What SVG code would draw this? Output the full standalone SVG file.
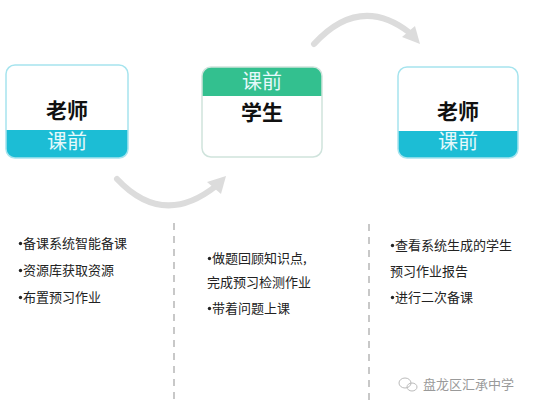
<svg xmlns="http://www.w3.org/2000/svg" width="533" height="408" viewBox="0 0 533 408">
<defs>
<style>
.box{fill:none;stroke-width:1.5}
.title{font-family:"Noto Sans CJK SC",sans-serif;font-weight:bold;font-size:21px;fill:#111;text-anchor:middle}
.band{font-family:"Noto Sans CJK SC",sans-serif;font-size:20px;fill:#e6f9fb;text-anchor:middle}
.item{font-family:"Noto Sans CJK SC",sans-serif;font-size:13px;fill:#222}
.dot{fill:#222}
.arc{fill:none;stroke:#dcdcdc;stroke-width:6;stroke-linecap:round}
.head{fill:#dcdcdc}
.div{stroke:#c8c8c8;stroke-width:2;stroke-dasharray:7 6}
</style>
</defs>
<rect width="533" height="408" fill="#fff"/>
<g id="connectors">
<path class="arc" d="M117,179 Q163,228 216,186"/>
<polygon class="head" points="226,176 207,182 221,194"/>
<path class="arc" d="M314,44 Q360,-6 410,33"/>
<polygon class="head" points="420,44 402,37 415,26"/>
<line class="div" x1="174" y1="223" x2="174" y2="402"/>
<line class="div" x1="369" y1="224" x2="369" y2="402"/>
</g>
<g id="node-teacher1">
<rect x="6" y="65" width="122" height="93" rx="9" fill="#fff"/>
<path d="M6,130 H128 V149 A9,9 0 0 1 119,158 H15 A9,9 0 0 1 6,149 Z" fill="#1cbdd5"/>
<rect class="box" x="6" y="65" width="122" height="93" rx="9" stroke="#a6e4ee"/>
<text class="title" x="67" y="118">老师</text>
<text class="band" x="67" y="149">课前</text>
</g>
<g id="node-student">
<rect x="202" y="67" width="120" height="90" rx="9" fill="#fff"/>
<path d="M202,96 V76 A9,9 0 0 1 211,67 H313 A9,9 0 0 1 322,76 V96 Z" fill="#33c08f"/>
<rect class="box" x="202" y="67" width="120" height="90" rx="9" stroke="#cfe3dc"/>
<text class="band" x="262" y="89">课前</text>
<text class="title" x="262" y="120">学生</text>
</g>
<g id="node-teacher2">
<rect x="398" y="67" width="120" height="91" rx="9" fill="#fff"/>
<path d="M398,131 H518 V149 A9,9 0 0 1 509,158 H407 A9,9 0 0 1 398,149 Z" fill="#1cbdd5"/>
<rect class="box" x="398" y="67" width="120" height="91" rx="9" stroke="#a6e4ee"/>
<text class="title" x="458" y="119">老师</text>
<text class="band" x="458" y="149">课前</text>
</g>
<g id="list1">
<circle class="dot" cx="20.5" cy="243.5" r="1.7"/>
<text class="item" x="23" y="248">备课系统智能备课</text>
<circle class="dot" cx="20.5" cy="270.5" r="1.7"/>
<text class="item" x="23" y="275">资源库获取资源</text>
<circle class="dot" cx="20.5" cy="297.5" r="1.7"/>
<text class="item" x="23" y="302">布置预习作业</text>
</g>
<g id="list2">
<circle class="dot" cx="209.5" cy="258.5" r="1.7"/>
<text class="item" x="212" y="263">做题回顾知识点,</text>
<text class="item" x="207" y="287">完成预习检测作业</text>
<circle class="dot" cx="209.5" cy="308.5" r="1.7"/>
<text class="item" x="212" y="313">带着问题上课</text>
</g>
<g id="list3">
<circle class="dot" cx="392.5" cy="245.5" r="1.7"/>
<text class="item" x="395" y="250">查看系统生成的学生</text>
<text class="item" x="390" y="276">预习作业报告</text>
<circle class="dot" cx="392.5" cy="297.5" r="1.7"/>
<text class="item" x="395" y="302">进行二次备课</text>
</g>
<g id="watermark">
<ellipse cx="405" cy="383" rx="6" ry="5" fill="none" stroke="#bbb" stroke-width="1"/>
<ellipse cx="412" cy="387" rx="5" ry="4" fill="none" stroke="#bbb" stroke-width="1"/>
<text x="423" y="389" font-family="Noto Sans CJK SC,sans-serif" font-size="13" fill="#9a9a9a">盘龙区汇承中学</text>
</g>
</svg>
